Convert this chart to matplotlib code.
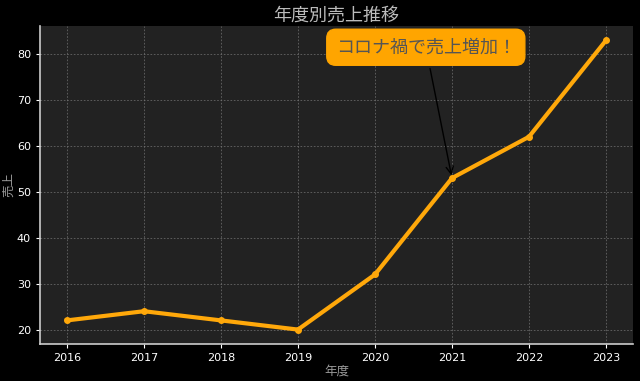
import numpy as np
import matplotlib
matplotlib.use("Agg")
import matplotlib.pyplot as plt

# data
years = [2016, 2017, 2018, 2019, 2020, 2021, 2022, 2023]
sales = [22, 24, 22, 20, 32, 53, 62, 83]
note_text = "コロナ禍で売上増加！"
note_year = 2021
note_value = 53

plt.rcParams['font.family'] = ['Noto Sans CJK JP', 'DejaVu Sans']

fig, ax = plt.subplots(figsize=(6.4, 3.81), dpi=100)
fig.patch.set_facecolor('black')
ax.set_facecolor('#222222')

ax.plot(years, sales, color='#FFA80A', linewidth=3, marker='o', markersize=4)

ax.set_title("年度別売上推移", color='#bbbbbb', fontsize=13, pad=4)
ax.set_xlabel("年度", color='#999999', fontsize=9, labelpad=1)
ax.set_ylabel("売上", color='#999999', fontsize=9, labelpad=1)

ax.grid(True, color='#777777', linestyle=(0, (2, 2)), linewidth=0.6, alpha=0.8)
ax.tick_params(colors='white', labelsize=8, length=3)
for lbl in ax.get_xticklabels() + ax.get_yticklabels():
    lbl.set_family('DejaVu Sans')
for s in ['top', 'right']:
    ax.spines[s].set_visible(False)
for s in ['left', 'bottom']:
    ax.spines[s].set_color('#cccccc')
    ax.spines[s].set_linewidth(1.2)

ax.annotate(note_text, xy=(note_year, note_value), xytext=(2020.66, 81.5),
            ha='center', va='center', fontsize=13, color='#555555',
            bbox=dict(boxstyle='round,pad=0.5', fc='#FFA500', ec='#FFA500'),
            arrowprops=dict(arrowstyle='->', color='black', lw=1))

fig.subplots_adjust(left=0.0625, right=0.989, bottom=0.097, top=0.932)
fig.savefig('out.png', facecolor=fig.get_facecolor())
